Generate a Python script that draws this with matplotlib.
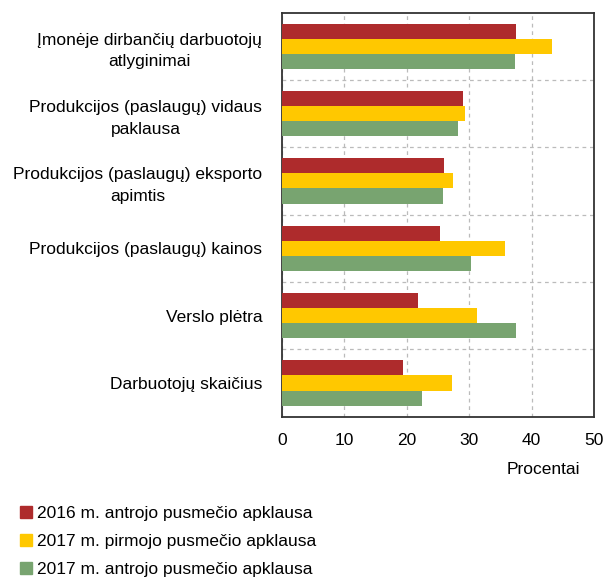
import numpy as np
import matplotlib.pyplot as plt
from matplotlib.patches import Patch

plt.rcParams['font.family'] = ['Liberation Sans', 'DejaVu Sans']

# Duomenys
kategorijos = [
    'Įmonėje dirbančių darbuotojų\natlyginimai',
    'Produkcijos (paslaugų) vidaus\npaklausa',
    'Produkcijos (paslaugų) eksporto\napimtis',
    'Produkcijos (paslaugų) kainos',
    'Verslo plėtra',
    'Darbuotojų skaičius',
]
s2016_2 = [37.5, 29.1, 26.0, 25.4, 21.8, 19.4]
s2017_1 = [43.2, 29.3, 27.4, 35.7, 31.2, 27.2]
s2017_2 = [37.3, 28.2, 25.8, 30.3, 37.5, 22.4]
serijos = ['2016 m. antrojo pusmečio apklausa',
           '2017 m. pirmojo pusmečio apklausa',
           '2017 m. antrojo pusmečio apklausa']
spalvos = ['#AE2B2C', '#FFC800', '#78A470']

fig = plt.figure(figsize=(6.06, 5.8), dpi=100)
ax = fig.add_axes([0.4649, 0.2816, 0.5153, 0.6966])

y = np.arange(len(kategorijos))
h = 0.223
for k, (vals, c) in enumerate(zip([s2016_2, s2017_1, s2017_2], spalvos)):
    ax.barh(y + (k - 1) * h, vals, height=h, color=c, zorder=3)

fs = 12.5
ax.set_xlim(0, 50)
ax.set_ylim(len(kategorijos) - 0.5, -0.5)
ax.set_xticks(np.arange(0, 51, 10))
ax.set_yticks(y)
ax.set_yticklabels(kategorijos, linespacing=1.55)
for t in ax.get_yticklabels():
    t.set_multialignment('center')
ax.set_yticks(np.arange(0.5, len(kategorijos) - 0.5), minor=True)
ax.tick_params(axis='both', which='both', length=0, labelsize=fs)
ax.tick_params(axis='x', pad=12)
ax.tick_params(axis='y', pad=14)

ax.grid(axis='x', which='major', color='#BBBBBB', linestyle=(0, (3, 3)), linewidth=0.9, zorder=0)
ax.grid(axis='y', which='minor', color='#BBBBBB', linestyle=(0, (3, 3)), linewidth=0.9, zorder=0)
for s in ax.spines.values():
    s.set_color('#333333')
    s.set_linewidth(1.3)

ax.text(0.957, -0.13, 'Procentai', transform=ax.transAxes, ha='right', va='center', fontsize=fs)

handles = [Patch(color=c) for c in spalvos]
fig.legend(handles, serijos, loc='upper left', bbox_to_anchor=(0.033, 0.128), frameon=False,
           fontsize=fs, handlelength=0.7, handleheight=0.7, handletextpad=0.3,
           labelspacing=0.75, borderpad=0, borderaxespad=0)

fig.savefig('out.png', dpi=100)
